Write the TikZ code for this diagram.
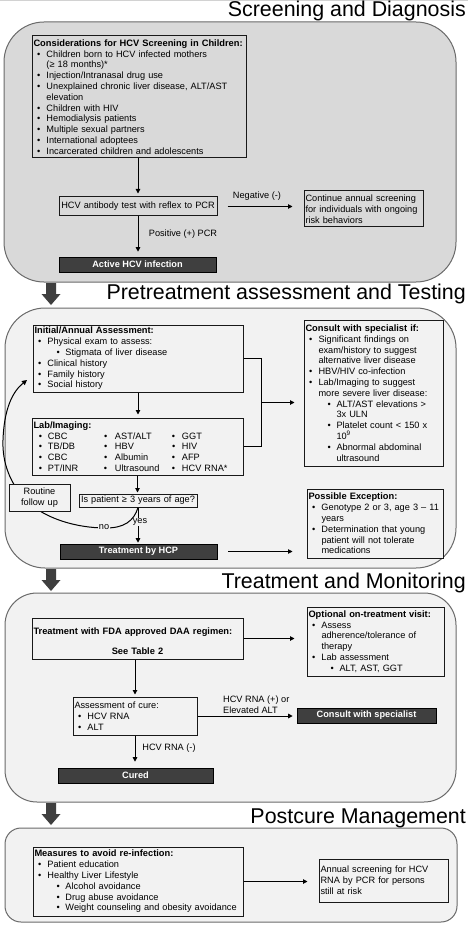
\documentclass[tikz,border=0pt]{standalone}
\usepackage{fontspec}
\setmainfont{Liberation Sans}
\usetikzlibrary{arrows.meta,calc}
\definecolor{secA}{HTML}{D9D9D9}
\definecolor{secB}{HTML}{F2F2F2}
\definecolor{secline}{HTML}{6A6A6A}
\definecolor{darkfill}{HTML}{3F3F3F}
\newcommand\hcvfont{\fontsize{9.2}{10.8}\selectfont}
\newcommand\hcvbf[1]{{\fontsize{9.3}{10.8}\selectfont\bfseries #1}}
\newcommand\hcvtitlefont{\fontsize{21.4}{25}\selectfont}
\newcommand\hcvbul{\hspace*{3.5pt}\makebox[9.5pt][l]{\textbullet}}
\newcommand\hcvsub{\hspace*{22pt}\makebox[9pt][l]{\textbullet}}
\newcommand\hcvcont{\hspace*{13pt}}
\newcommand\hcvsubcont{\hspace*{31pt}}
\newcommand\hcvlab[3]{\hspace*{5.5pt}\makebox[9pt][l]{\textbullet}\makebox[56pt][l]{#1}\makebox[11pt][l]{\textbullet}\makebox[57pt][l]{#2}\makebox[10pt][l]{\textbullet}#3}
\begin{document}
\begin{tikzpicture}[x=1pt,y=-1pt,
  sec/.style={draw=secline, line width=1pt},
  box/.style={draw=black!90, line width=1pt, align=left, inner xsep=1.5pt, inner ysep=0pt, font=\hcvfont, fill=#1},
  box/.default=secB,
  darkbox/.style={draw=black, line width=0.6pt, fill=darkfill, text=white, font=\hcvfont\bfseries, inner sep=0pt},
  arr/.style={line width=1pt, -{Triangle[length=4.5pt,width=4.5pt]}},
  lbl/.style={font=\hcvfont, inner sep=1pt},
  ttl/.style={font=\hcvtitlefont, anchor=base east, inner sep=0pt}
]
\useasboundingbox (0,0) rectangle (468,933);
\fill[white] (0,0) rectangle (468,933);
\draw[gray!35, line width=1pt] (0,0.5) -- (468,0.5);

% sections
\draw[sec, fill=secA, rounded corners=40pt] (4,22) rectangle (456,282);
\draw[sec, fill=secB, rounded corners=40pt] (5,308) rectangle (456,568);
\draw[sec, fill=secB, rounded corners=32pt] (5,593) rectangle (456,802);
\draw[sec, fill=secB, rounded corners=16pt] (5,828) rectangle (457,922);

% titles
\node[ttl] (T1) at (466,17) {Screening and Diagnosis};
\node[ttl] (T2) at (466,299) {Pretreatment assessment and Testing};
\node[ttl] (T3) at (466,588) {Treatment and Monitoring};
\node[ttl] (T4) at (466,823) {Postcure Management};

% block arrows
\fill[darkfill] (46,283) -- (56,283) -- (56,294) -- (60.5,294) -- (51,305) -- (41.5,294) -- (46,294) -- cycle;
\fill[darkfill] (46,569) -- (56,569) -- (56,580) -- (60.5,580) -- (51,591) -- (41.5,580) -- (46,580) -- cycle;
\fill[darkfill] (46,803) -- (56,803) -- (56,814) -- (60.5,814) -- (51,825) -- (41.5,814) -- (46,814) -- cycle;

% ---- Section 1
\node[box=secA, minimum width=214pt, minimum height=122pt, text width=211pt] (B1) at (139,97) {\hcvbf{Considerations for HCV Screening in Children:}\\
\hcvbul Children born to HCV infected mothers\\
\hcvcont (≥ 18 months)*\\
\hcvbul Injection/Intranasal drug use\\
\hcvbul Unexplained chronic liver disease, ALT/AST\\
\hcvcont elevation\\
\hcvbul Children with HIV\\
\hcvbul Hemodialysis patients\\
\hcvbul Multiple sexual partners\\
\hcvbul International adoptees\\
\hcvbul Incarcerated children and adolescents};
\node[box=secA, align=center, minimum width=158pt, minimum height=19pt, text width=155pt] (B2) at (138,206.5) {HCV antibody test with reflex to PCR};
\node[box=secA, minimum width=119pt, minimum height=36pt, text width=116pt] (B3) at (363.5,209) {Continue annual screening\\for individuals with ongoing\\risk behaviors};
\node[darkbox, minimum width=157pt, minimum height=15pt] (B4) at (137.5,264.5) {Active HCV infection};
\draw[arr, shorten >=3pt] (B1.south -| B2.north) -- (B2.north);
\draw[arr, shorten >=5pt] (B2.south) -- (B2.south |- B4.north);
\draw[arr, shorten <=10pt, shorten >=11pt] (B2.east) -- (B2.east -| B3.west);
\node[lbl] (L1) at (257,196) {Negative (-)};
\node[lbl] (L2) at (183,234) {Positive (+) PCR};

% ---- Section 2
\node[box, minimum width=210pt, minimum height=67pt, text width=207pt] (C1) at (138,358.5) {\hcvbf{Initial/Annual Assessment:}\\
\hcvbul Physical exam to assess:\\
\hcvsub Stigmata of liver disease\\
\hcvbul Clinical history\\
\hcvbul Family history\\
\hcvbul Social history};
\node[box, minimum width=211pt, minimum height=57pt, text width=208pt] (C2) at (137.5,446.5) {\hcvbf{Lab/Imaging:}\\
\hcvlab{CBC}{AST/ALT}{GGT}\\
\hcvlab{TB/DB}{HBV}{HIV}\\
\hcvlab{CBC}{Albumin}{AFP}\\
\hcvlab{PT/INR}{Ultrasound}{HCV RNA*}};
\node[box, minimum width=139pt, minimum height=146pt, text width=136pt] (C3) at (373.5,393) {\hcvbf{Consult with specialist if:}\\
\hcvbul Significant findings on\\
\hcvcont exam/history to suggest\\
\hcvcont alternative liver disease\\
\hcvbul HBV/HIV co-infection\\
\hcvbul Lab/Imaging to suggest\\
\hcvcont more severe liver disease:\\
\hcvsub ALT/AST elevations >\\
\hcvsubcont 3x ULN\\
\hcvsub Platelet count < 150 x\\
\hcvsubcont 10\textsuperscript{9}\\
\hcvsub Abnormal abdominal\\
\hcvsubcont ultrasound};
\node[box, align=center, minimum width=118pt, minimum height=13pt, text width=115pt] (C5) at (138,500.5) {Is patient ≥ 3 years of age?};
\node[darkbox, minimum width=157pt, minimum height=15pt] (C6) at (138.5,551.5) {Treatment by HCP};
\node[box, minimum width=136pt, minimum height=69pt, text width=133pt] (C7) at (375,523.5) {\hcvbf{Possible Exception:}\\
\hcvbul Genotype 2 or 3, age 3 – 11\\
\hcvcont years\\
\hcvbul Determination that young\\
\hcvcont patient will not tolerate\\
\hcvcont medications};

\draw[arr, shorten >=3pt] (C1.south) -- (C1.south |- C2.north);
\draw[arr, shorten >=1pt] (C2.south) -- (C2.south |- C5.north);
\coordinate (J1) at ($(C1.east)+(18,0)$);
\draw[line width=1pt] (C1.east) -- (J1) -- (J1 |- C2.east) -- (C2.east);
\coordinate (JM) at ($(J1)!0.5!(J1 |- C2.east)$);
\draw[arr, shorten >=9pt] (JM) -- (JM -| C3.west);
\draw[arr, shorten >=1pt] (C5.south) -- (C5.south |- C6.north);
\node[lbl, fill=secB, inner sep=0.8pt] (Lyes) at (140,522) {yes};
\coordinate (RT) at (27,380);
\draw[line width=1pt, -{Triangle[length=5pt,width=5pt]}] (C5.south) .. controls (134,521) and (124,528) .. (106,528) .. controls (75,528) and (45,518) .. (28,502) .. controls (10,485) and (2,462) .. (3,440) .. controls (4,410) and (12,392) .. (RT);
\node[lbl, fill=secB, inner sep=0.8pt] (Lno) at (104,527) {no};
\node[box, align=center, minimum width=61pt, minimum height=27pt, text width=58pt] (C4) at (39.5,497.5) {Routine\\follow up};
\draw[line width=0.8pt, -{Triangle[length=4.5pt,width=4.5pt]}, shorten <=11pt, shorten >=14pt] (C6.east) -- (C6.east -| C7.west);

% ---- Section 3
\node[box, minimum width=211pt, minimum height=41pt, text width=208pt] (D1) at (137.5,638.5) {\rule{0pt}{12.5pt}\hcvbf{Treatment with FDA approved DAA regimen:}\\[9pt]
\makebox[208pt]{\hcvbf{See Table 2}}};
\node[box, minimum width=137pt, minimum height=69pt, text width=134pt] (D2) at (375.5,641.5) {\hcvbf{Optional on-treatment visit:}\\
\hcvbul Assess\\
\hcvcont adherence/tolerance of\\
\hcvcont therapy\\
\hcvbul Lab assessment\\
\hcvsub ALT, AST, GGT};
\node[box, minimum width=124pt, minimum height=38pt, text width=121pt] (D3) at (135,716) {Assessment of cure:\\
\hcvbul HCV RNA\\
\hcvbul ALT};
\node[darkbox, minimum width=139pt, minimum height=15pt] (D4) at (366.5,715.5) {Consult with specialist};
\node[darkbox, minimum width=155pt, minimum height=15pt] (D5) at (135.5,775.5) {Cured};
\draw[arr, shorten >=12pt] (D1.east) -- (D1.east -| D2.west);
\draw[arr, shorten >=2pt] (D1.south -| D3.north) -- (D3.north);
\draw[arr, shorten >=4pt] (D3.east) -- (D3.east -| D4.west);
\node[lbl, align=left, anchor=west] (L3) at (222,704.5) {HCV RNA (+) or\\Elevated ALT};
\draw[arr, shorten >=6pt] (D3.south) -- (D3.south |- D5.north);
\node[lbl] (L4) at (169,748) {HCV RNA (-)};

% ---- Section 4
\node[box, minimum width=210pt, minimum height=69pt, text width=207pt] (E1) at (138,881.5) {\hcvbf{Measures to avoid re-infection:}\\
\hcvbul Patient education\\
\hcvbul Healthy Liver Lifestyle\\
\hcvsub Alcohol avoidance\\
\hcvsub Drug abuse avoidance\\
\hcvsub Weight counseling and obesity avoidance};
\node[box, minimum width=129pt, minimum height=43pt, text width=126pt] (E2) at (383.5,880.5) {Annual screening for HCV\\RNA by PCR for persons\\still at risk};
\draw[arr, shorten >=11pt] (E1.east) -- (E1.east -| E2.west);
\end{tikzpicture}
\end{document}
